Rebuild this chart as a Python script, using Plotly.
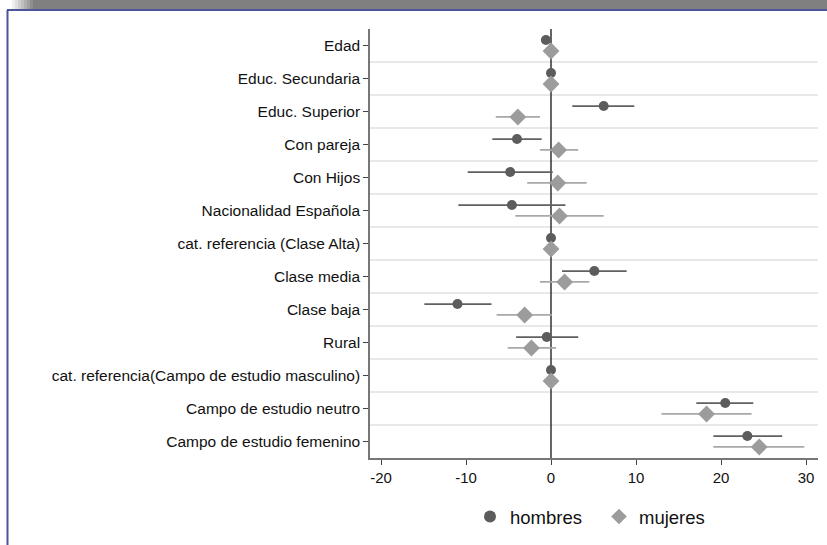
import plotly.graph_objects as go

categories = ["Edad", "Educ. Secundaria", "Educ. Superior", "Con pareja", "Con Hijos",
              "Nacionalidad Española", "cat. referencia (Clase Alta)", "Clase media",
              "Clase baja", "Rural", "cat. referencia(Campo de estudio masculino)",
              "Campo de estudio neutro", "Campo de estudio femenino"]

hombres = [-0.6, 0.0, 6.2, -4.0, -4.8, -4.6, 0.0, 5.1, -11.0, -0.5, 0.0, 20.5, 23.1]
hombres_lo = [-0.6, 0.0, 2.5, -6.9, -9.8, -10.9, 0.0, 1.3, -14.9, -4.1, 0.0, 17.1, 19.1]
hombres_hi = [-0.6, 0.0, 9.8, -1.1, 0.2, 1.7, 0.0, 8.9, -7.0, 3.2, 0.0, 23.8, 27.2]

mujeres = [0.0, 0.0, -3.9, 0.9, 0.8, 1.0, 0.0, 1.6, -3.1, -2.3, 0.0, 18.3, 24.5]
mujeres_lo = [0.0, 0.0, -6.5, -1.3, -2.8, -4.2, 0.0, -1.3, -6.4, -5.1, 0.0, 13.0, 19.1]
mujeres_hi = [0.0, 0.0, -1.3, 3.2, 4.2, 6.2, 0.0, 4.5, 0.1, 0.6, 0.0, 23.6, 29.8]

x_ticks = [-20, -10, 0, 10, 20, 30]

n = len(categories)
pos = list(range(n))
off = 0.165

DARK = "#5c5c5c"
LIGHT = "#9c9c9c"

fig = go.Figure()
fig.add_trace(go.Scatter(
    x=hombres, y=[p - off for p in pos], mode="markers", name="hombres",
    marker=dict(symbol="circle", size=10, color=DARK),
    error_x=dict(type="data", symmetric=False,
                 array=[h - m for h, m in zip(hombres_hi, hombres)],
                 arrayminus=[m - l for m, l in zip(hombres, hombres_lo)],
                 color="#606060", thickness=1.8, width=0),
))
fig.add_trace(go.Scatter(
    x=mujeres, y=[p + off for p in pos], mode="markers", name="mujeres",
    marker=dict(symbol="diamond", size=13, color=LIGHT),
    error_x=dict(type="data", symmetric=False,
                 array=[h - m for h, m in zip(mujeres_hi, mujeres)],
                 arrayminus=[m - l for m, l in zip(mujeres, mujeres_lo)],
                 color="#a8a8a8", thickness=1.8, width=0),
))

# plot region in pixels
L, R, T, B = 370, 818, 29, 458
W, H = 827, 545
pw, ph = R - L, B - T

def px(xp):
    return (xp - L) / pw

def py(yp):
    return (B - yp) / ph

shapes = []
# separators between categories
for i in range(n - 1):
    shapes.append(dict(type="line", xref="paper", yref="y", x0=0, x1=1,
                       y0=i + 0.5, y1=i + 0.5, line=dict(color="#e8e8e8", width=2),
                       layer="below"))
# zero line
shapes.append(dict(type="line", xref="x", yref="paper", x0=0, x1=0, y0=0, y1=1,
                   line=dict(color="#333333", width=1.5), layer="below"))
# top gray bar with gradient fade on the left
grad_steps = 8
for k in range(grad_steps):
    x0p = 12 + k * 3
    g = int(255 - (255 - 128) * (k + 1) / grad_steps)
    shapes.append(dict(type="rect", xref="paper", yref="paper",
                       x0=px(x0p), x1=px(x0p + 3), y0=py(9), y1=py(0),
                       fillcolor=f"rgb({g},{g},{g})", line=dict(width=0), layer="below"))
shapes.append(dict(type="rect", xref="paper", yref="paper",
                   x0=px(12 + grad_steps * 3), x1=px(W), y0=py(9), y1=py(0),
                   fillcolor="rgb(128,128,128)", line=dict(width=0), layer="below"))
# blue frame
shapes.append(dict(type="line", xref="paper", yref="paper", x0=px(7), x1=px(W),
                   y0=py(10), y1=py(10), line=dict(color="#4b5599", width=2)))
shapes.append(dict(type="line", xref="paper", yref="paper", x0=px(7.5), x1=px(7.5),
                   y0=py(10), y1=py(H), line=dict(color="#4b5599", width=2)))

fig.update_layout(
    width=W, height=H,
    margin=dict(l=L, r=W - R, t=T, b=H - B, pad=0),
    paper_bgcolor="white", plot_bgcolor="white",
    font=dict(family="Liberation Sans, Arial, sans-serif", size=15, color="#111111"),
    showlegend=True,
    legend=dict(orientation="h", x=px(470), xanchor="left", y=py(517), yanchor="middle",
                font=dict(size=18.5, color="#111111"), itemsizing="constant",
                entrywidth=84, entrywidthmode="pixels",
                itemwidth=30, tracegroupgap=0, bgcolor="rgba(0,0,0,0)"),
    xaxis=dict(range=[(L - 551) / 8.5, (R - 551) / 8.5], tickvals=x_ticks,
               ticktext=[str(v) for v in x_ticks], showgrid=False, zeroline=False,
               showline=True, linecolor="#777777", linewidth=1.5,
               ticks="outside", ticklen=5, tickcolor="#444444", tickwidth=1,
               tickfont=dict(size=15)),
    yaxis=dict(range=[n - 0.5, -0.5], tickvals=pos, ticktext=categories,
               showgrid=False, zeroline=False, showline=True, linecolor="#777777",
               linewidth=1.5, ticks="outside", ticklen=5, tickcolor="#444444",
               tickwidth=1, tickfont=dict(size=15.5)),
    shapes=shapes,
)

fig.write_html("out.html", config={"displayModeBar": False},
               post_script="document.body.style.margin='0';document.body.style.overflow='hidden';")
